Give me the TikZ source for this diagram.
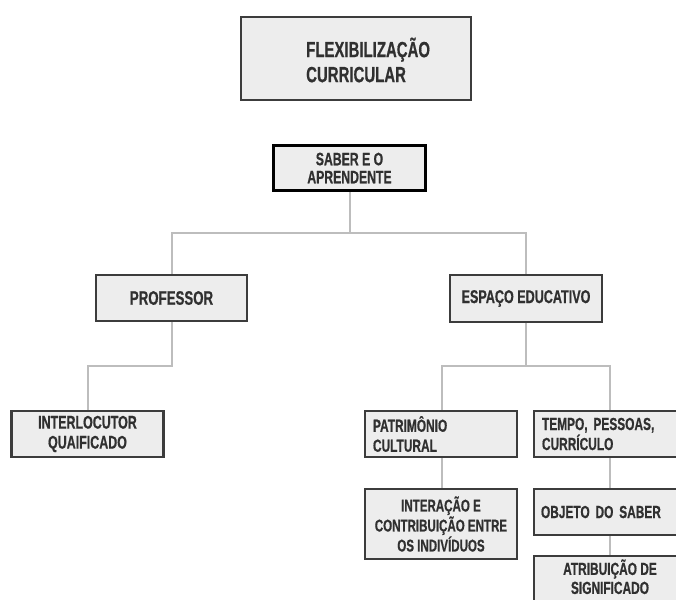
\documentclass[tikz,border=0pt]{standalone}
\usepackage{fontspec}
\setmainfont{Liberation Sans}[FakeStretch=0.68, BoldFeatures={FakeBold=0.6}]
\usetikzlibrary{backgrounds}
\definecolor{boxfill}{HTML}{EDEDED}
\definecolor{boxline}{HTML}{3C3C3C}
\definecolor{txtcol}{HTML}{303030}
\definecolor{conn}{HTML}{BDBDBD}
\begin{document}
\begin{tikzpicture}[x=1pt,y=-1pt,
  box/.style={draw=boxline, line width=2.2pt, fill=boxfill, text=txtcol, font=\bfseries\fontsize{17.5}{20}\selectfont, inner sep=0pt, align=center, minimum width=152pt, minimum height=46pt},
  leftbox/.style={box, align=left, text width=136pt, inner xsep=8pt},
  link/.style={draw=conn, line width=2pt}]
\useasboundingbox (0,0) rectangle (676,599);
% top title
\node[box, minimum width=230pt, minimum height=83pt] (flex) at (356,58.5) {};
\node[text=txtcol, font=\bfseries\fontsize{22}{25}\selectfont, align=left, anchor=west, inner sep=0pt] (flextext) at (306,60) {FLEXIBILIZAÇÃO\\CURRICULAR};
% level 1
\node[box, draw=black, line width=3pt, minimum width=152pt, minimum height=45pt, font=\bfseries\fontsize{18}{18}\selectfont] (saber) at (349.5,168) {SABER E O\\APRENDENTE};
% level 2
\node[box, minimum width=151pt, minimum height=46pt, font=\bfseries\fontsize{19.5}{21}\selectfont] (prof) at (171.5,298) {PROFESSOR};
\node[box, minimum width=152pt, minimum height=47pt, font=\bfseries\fontsize{18.5}{21}\selectfont] (esp) at (526,298.5) {ESPAÇO EDUCATIVO};
% level 3
\node[box, font=\bfseries\fontsize{18.3}{20}\selectfont] (inter) at (87.5,434) {INTERLOCUTOR\\QUAIFICADO};
\node[leftbox] (patr) at (441,434) {PATRIMÔNIO\\CULTURAL};
\node[leftbox, minimum height=46pt] (tempo) at (610,434) {TEMPO, PESSOAS,\\CURRÍCULO};
% level 4
\node[box, minimum height=70pt, font=\bfseries\fontsize{17}{20}\selectfont] (intera) at (441,524) {INTERAÇÃO E\\CONTRIBUIÇÃO ENTRE\\OS INDIVÍDUOS};
\node[leftbox, inner xsep=7pt, text width=138pt] (obj) at (610,512) {OBJETO DO SABER};
\node[box, minimum height=48pt, font=\bfseries\fontsize{17.5}{19}\selectfont] (atrib) at (610,580) {ATRIBUIÇÃO DE\\SIGNIFICADO\vphantom{g}\vspace{3pt}};
% connectors
\begin{scope}[on background layer]
\draw[link] (saber.south) -- ++(0,41) -| (prof.north);
\draw[link] (saber.south) -- ++(0,41) -| (esp.north);
\draw[link] (prof.south) -- ++(0,44) -| (inter.north);
\draw[link] (esp.south) -- ++(0,43) -| ([xshift=1pt]patr.north);
\draw[link] (esp.south) -- ++(0,43) -| (tempo.north);
\draw[link] ([xshift=1pt]patr.south) -- ([xshift=1pt]intera.north);
\draw[link] (tempo.south) -- (obj.north);
\draw[link] (obj.south) -- (atrib.north);
\end{scope}
\end{tikzpicture}
\end{document}
